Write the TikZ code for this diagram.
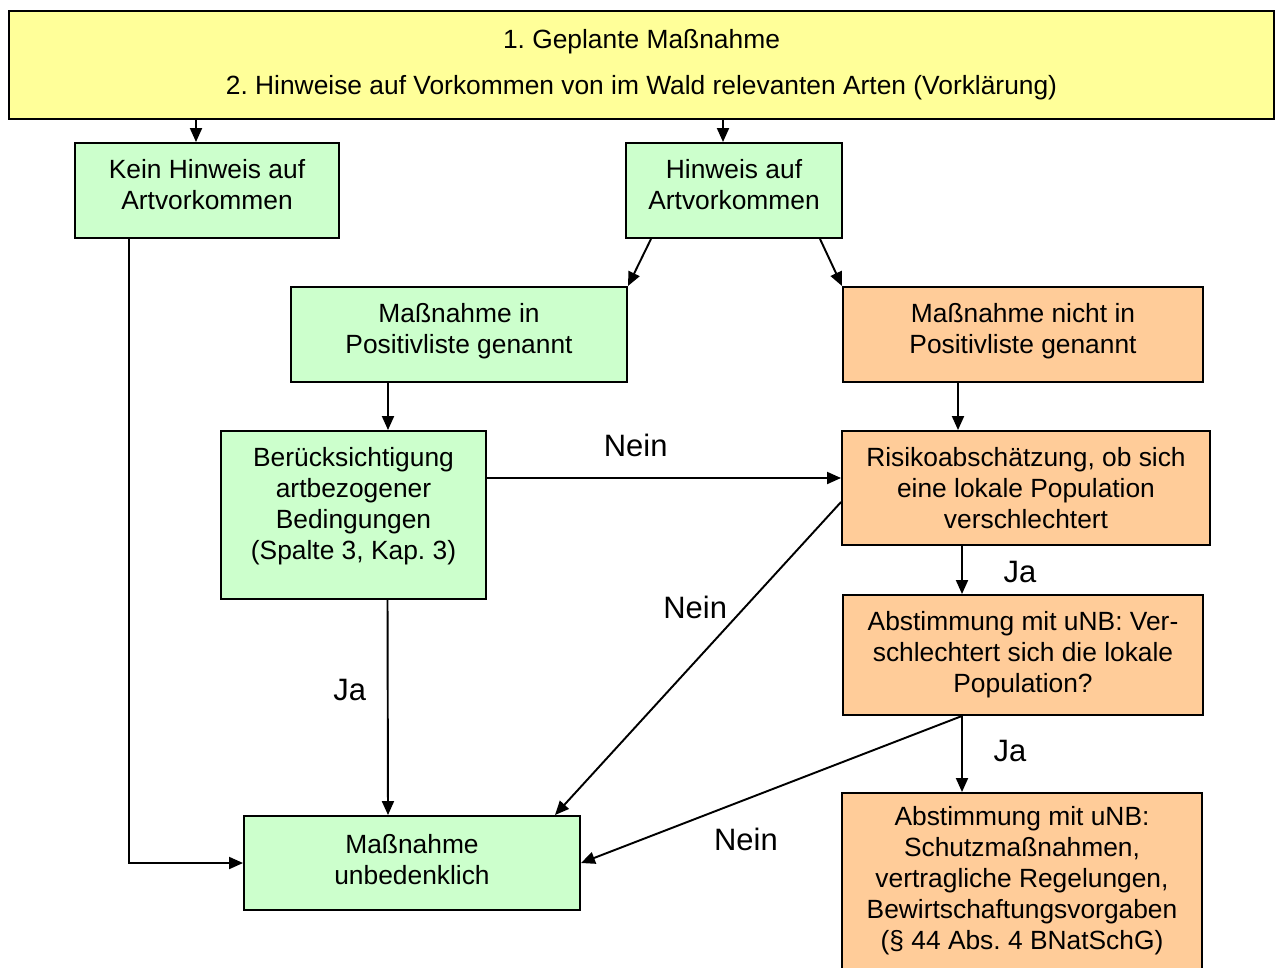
\documentclass[tikz,border=0pt]{standalone}
\usepackage{fontspec}
\setmainfont{Liberation Sans}
\frenchspacing
\usetikzlibrary{arrows.meta}
\definecolor{gelbfill}{HTML}{FFFF99}
\definecolor{gruenfill}{HTML}{CCFFCC}
\definecolor{orangefill}{HTML}{FFCC99}
\tikzset{
  box/.style = {draw, line width=1.1pt, align=center, inner sep=0pt,
    font=\fontsize{15}{17.6}\selectfont},
  gelbbox/.style = {box, fill=gelbfill},
  gruenbox/.style = {box, fill=gruenfill},
  orangebox/.style = {box, fill=orangefill},
  pfeil/.style = {line width=1.1pt, -{Triangle[length=0.28cm,width=0.24cm]}},
  lbl/.style = {font=\fontsize{17.6}{20}\selectfont, inner sep=0pt}
}

\begin{document}
\begin{tikzpicture}
\useasboundingbox (0,0) rectangle (25.5,-19.34);
% Kopf
\node[gelbbox, minimum width=25.30cm, minimum height=2.16cm] (top) at (12.83,-1.30)
  {1. Geplante Maßnahme\\[0.3cm]2. Hinweise auf Vorkommen von im Wald relevanten Arten (Vorklärung)};
% gruene Kaesten
\node[gruenbox, minimum width=5.28cm, minimum height=1.90cm, text depth=6.8pt] (kein) at (4.14,-3.81) {Kein Hinweis auf\\Artvorkommen};
\node[gruenbox, minimum width=4.32cm, minimum height=1.90cm, text depth=6.8pt] (hinweis) at (14.68,-3.81) {Hinweis auf\\Artvorkommen};
\node[gruenbox, minimum width=6.72cm, minimum height=1.90cm, text depth=6.8pt] (posja) at (9.18,-6.69) {Maßnahme in\\Positivliste genannt};
\node[gruenbox, minimum width=5.30cm, minimum height=3.36cm, text depth=13.4pt] (berueck) at (7.07,-10.30)
  {Berücksichtigung\\artbezogener\\Bedingungen\\(Spalte 3, Kap. 3)};
\node[gruenbox, minimum width=6.72cm, minimum height=1.88cm, text depth=4.5pt] (unbed) at (8.24,-17.26) {Maßnahme\\unbedenklich};
% orange Kaesten
\node[orangebox, minimum width=7.20cm, minimum height=1.90cm, text depth=6.8pt] (posnein) at (20.46,-6.69) {Maßnahme nicht in\\Positivliste genannt};
\node[orangebox, minimum width=7.36cm, minimum height=2.28cm] (risiko) at (20.52,-9.76)
  {Risikoabschätzung, ob sich\\eine lokale Population\\verschlechtert};
\node[orangebox, minimum width=7.20cm, minimum height=2.40cm] (abstA) at (20.46,-13.10)
  {Abstimmung mit uNB: Ver-\\schlechtert sich die lokale\\Population?};
\node[orangebox, minimum width=7.20cm, minimum height=3.52cm] (abstB) at (20.44,-17.62)
  {Abstimmung mit uNB:\\Schutzmaßnahmen,\\vertragliche Regelungen,\\Bewirtschaftungsvorgaben\\(§ 44 Abs. 4 BNatSchG)};

% Pfeile
\draw[pfeil] ([xshift=-0.22cm]kein.north |- top.south) -- ([xshift=-0.22cm]kein.north);
\draw[pfeil] ([xshift=-0.22cm]hinweis.north |- top.south) -- ([xshift=-0.22cm]hinweis.north);
\draw[pfeil] ([xshift=-1.66cm]hinweis.south) -- (posja.north east);
\draw[pfeil] ([xshift=1.72cm]hinweis.south) -- (posnein.north west);
\draw[pfeil] ([xshift=-1.42cm]posja.south) -- ([xshift=-1.42cm]posja.south |- berueck.north);
\draw[pfeil] ([xshift=-1.30cm]posnein.south) -- ([xshift=-1.30cm]posnein.south |- risiko.north);
\draw[pfeil] ([yshift=0.74cm]berueck.east) -- ([yshift=0.74cm]berueck.east -| risiko.west)
  node[lbl, pos=.42, yshift=0.66cm] {Nein};
\draw[pfeil] ([xshift=-1.28cm]risiko.south) -- ([xshift=-1.28cm]risiko.south |- abstA.north)
  node[lbl, pos=.54, xshift=1.16cm] {Ja};
\draw[pfeil] ([yshift=-0.28cm]risiko.west) -- ([xshift=2.86cm]unbed.north)
  node[lbl, pos=.51, yshift=1.08cm] {Nein};
\draw[pfeil] ([xshift=0.68cm]berueck.south) -- ([xshift=-0.48cm]unbed.north)
  node[lbl, pos=.42, xshift=-0.76cm] {Ja};
\draw[pfeil] ([xshift=-1.22cm]abstA.south) -- ([xshift=-1.22cm]abstA.south |- abstB.north)
  node[lbl, pos=.46, xshift=0.96cm] {Ja};
\draw[pfeil] ([xshift=-1.22cm]abstA.south) -- (unbed.east)
  node[lbl, pos=.567, yshift=-0.80cm] {Nein};
\draw[pfeil] ([xshift=-1.56cm]kein.south) |- (unbed.west);
\end{tikzpicture}
\end{document}
